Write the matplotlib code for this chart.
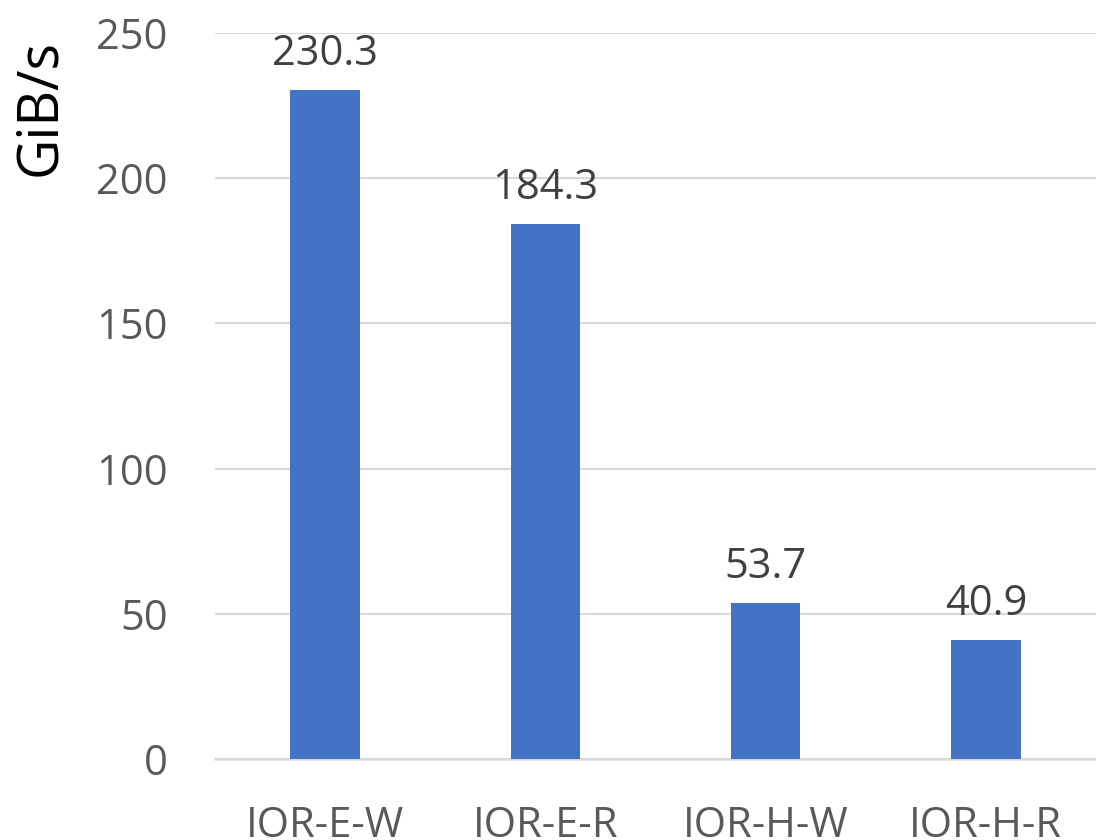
import matplotlib.pyplot as plt

CATEGORIES = ["IOR-E-W", "IOR-E-R", "IOR-H-W", "IOR-H-R"]
VALUES = [230.3, 184.3, 53.7, 40.9]
Y_TICKS = [0, 50, 100, 150, 200, 250]

plt.rcParams["font.family"] = ["Open Sans", "DejaVu Sans"]

fig = plt.figure(figsize=(10.96, 8.4), dpi=100)
ax = fig.add_axes([0.196, 0.0964, 0.804, 0.8643])

x = list(range(len(CATEGORIES)))
bars = ax.bar(x, VALUES, width=0.315, color="#4472C4", zorder=3)
for bar, v in zip(bars, VALUES):
    ax.annotate(f"{v:.1f}", (bar.get_x() + bar.get_width() / 2, v),
                xytext=(0, 18), textcoords="offset points",
                ha="center", va="baseline", fontsize=30, color="#404040")

ax.set_xlim(-0.5, len(CATEGORIES) - 0.5)
ax.set_ylim(0, 250)
ax.set_yticks(Y_TICKS)
ax.set_xticks(x)
ax.set_xticklabels(CATEGORIES)
ax.tick_params(axis="both", length=0, labelsize=30, labelcolor="#595959")
ax.tick_params(axis="x", pad=33)
ax.tick_params(axis="y", pad=34)
ax.grid(True, axis="y", color="#D9D9D9", linewidth=1.5, zorder=0)
for side in ["top", "right", "left"]:
    ax.spines[side].set_visible(False)
ax.spines["bottom"].set_color("#D9D9D9")
ax.spines["bottom"].set_linewidth(1.8)
ax.set_ylabel("GiB/s", fontsize=40, color="#000000")
ax.yaxis.set_label_coords(-0.165, 0.898)

fig.savefig("out.png", dpi=100)
